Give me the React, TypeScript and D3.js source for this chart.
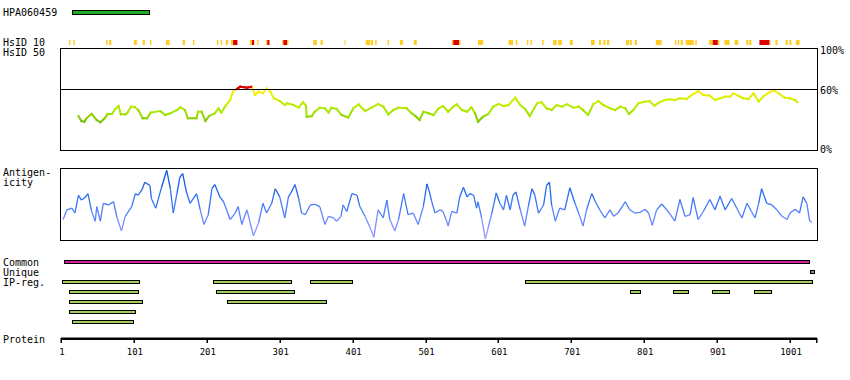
import React from "react";
import * as d3 from "d3";

const PROTEIN_LENGTH = 1038;
const TICK_VALUES = [1, 101, 201, 301, 401, 501, 601, 701, 801, 901, 1001];

const HPA_ANTIGEN = [16, 121];

// HsID 10 conservation marks: [start, end, level] level 1 = orange, 2 = red
const HSID10_MARKS: [number, number, number][] = [
  [12, 14, 1], [18, 20, 1], [63, 65, 1], [67, 70, 1], [101, 105, 1], [113, 116, 1],
  [123, 125, 1], [145, 150, 1], [168, 171, 1], [182, 184, 1], [215, 217, 1], [220, 222, 1],
  [227, 230, 1], [234, 237, 1], [237, 243, 2], [260, 263, 1], [263, 266, 2], [270, 272, 1],
  [282, 284, 1], [284, 287, 2], [304, 306, 1], [306, 311, 2], [311, 313, 1], [347, 352, 1],
  [357, 360, 1], [390, 391, 1], [419, 425, 1], [426, 429, 1], [432, 434, 1], [449, 451, 1],
  [466, 470, 1], [485, 489, 1], [537, 539, 1], [539, 547, 2], [547, 549, 1], [573, 580, 1],
  [615, 621, 1], [625, 627, 1], [640, 642, 1], [645, 647, 1], [661, 663, 1], [676, 681, 1],
  [683, 688, 1], [699, 703, 1], [728, 733, 1], [739, 742, 1], [745, 748, 1], [750, 753, 1],
  [776, 780, 1], [781, 784, 1], [788, 791, 1], [817, 823, 1], [823, 825, 1], [843, 845, 1],
  [847, 849, 1], [851, 854, 1], [858, 869, 1], [871, 873, 1], [890, 895, 1], [895, 902, 2],
  [902, 904, 1], [911, 918, 1], [925, 930, 1], [941, 944, 1], [945, 948, 1], [959, 973, 2],
  [973, 974, 1], [981, 984, 1], [995, 998, 1], [1000, 1003, 1], [1009, 1014, 1],
];

// Similarity (HsID 50) in percent, sampled along the sequence
const SIM_RESIDUES = [
  25, 29, 33, 36, 43, 50, 55, 61, 65, 71, 75, 80, 83, 90, 93, 97, 102, 107, 113, 119, 124, 137, 144, 151,
  160, 165, 171, 175, 187, 189, 194, 199, 204, 212, 217, 221, 226, 233, 237, 242, 247, 256, 263, 267,
  272, 278, 283, 288, 293, 301, 308, 311, 320, 327, 333, 337, 338, 345, 349, 356, 363, 368, 372, 379,
  386, 395, 402, 409, 418, 427, 436, 443, 450, 457, 464, 475, 482, 487, 493, 498, 505, 512, 519, 525,
  532, 539, 544, 551, 558, 564, 569, 573, 580, 587, 594, 601, 608, 615, 624, 631, 638, 644, 654, 660,
  667, 674, 681, 688, 695, 704, 711, 717, 724, 731, 738, 745, 754, 761, 768, 775, 780, 786, 793, 802,
  808, 815, 822, 829, 836, 843, 850, 859, 866, 875, 882, 891, 898, 905, 912, 919, 923, 930, 937, 944,
  951, 958, 964, 974, 980, 987, 994, 1001, 1008, 1011,
];
const SIM_VALUES = [
  33.3, 28.4, 27.7, 31.1, 35.3, 29.4, 27.2, 31.1, 35.3, 35.3, 39.9, 43.1, 35, 35, 37.5, 42.5, 42.2, 39.2,
  31.1, 31.1, 36.6, 38.2, 34.3, 36, 39.2, 41.9, 39.2, 31.1, 31.1, 37.5, 37.5, 28.4, 33.3, 36, 40.9, 36.6,
  42.5, 49, 57.2, 59.8, 62.1, 61.1, 62.1, 53.9, 57.2, 55.6, 60.5, 57.2, 50.7, 48, 44.1, 45.8, 44.1, 41.5,
  46.8, 43.4, 32.6, 33.3, 37.5, 41.5, 40.9, 36.6, 41.5, 40.2, 34.3, 31.7, 40.9, 44.8, 38.2, 41.5, 45.1,
  42.5, 35, 39.2, 41.5, 40.9, 36, 33.3, 29.4, 37.5, 36, 34.3, 40.9, 43.1, 37.5, 42.5, 44.8, 39.2, 37.5,
  41.9, 36, 27.7, 32.6, 35.3, 42.5, 45.1, 43.1, 44.1, 51.3, 44.1, 39.9, 33.3, 45.8, 46.8, 40.9, 39.2,
  44.1, 42.5, 44.8, 41.5, 42.5, 39.2, 34.3, 44.8, 48, 44.1, 40.9, 39.2, 42.5, 40.9, 35.3, 39.2, 45.8,
  47.4, 48, 43.4, 46.8, 49, 49.7, 49, 50.7, 50, 53.9, 57.8, 53.9, 53.2, 49, 50.7, 52.3, 52.3, 55.6, 53.2,
  50.7, 50, 55.6, 47.4, 52.3, 57.2, 58.1, 54.6, 51.3, 50.7, 49, 46.8,
];

// Antigenicity score (0-100), sampled along the sequence
const ANT_RESIDUES = [
  4, 9, 16, 20, 25, 29, 34, 38, 43, 48, 50, 55, 59, 66, 73, 78, 84, 89, 98, 103, 107, 112, 116, 123, 125,
  131, 139, 146, 151, 155, 160, 164, 168, 173, 178, 187, 192, 197, 203, 208, 212, 219, 224, 233, 240, 244,
  249, 256, 265, 272, 278, 283, 290, 295, 301, 308, 313, 317, 322, 327, 331, 336, 343, 349, 356, 363, 368,
  375, 379, 385, 388, 393, 400, 407, 411, 418, 425, 430, 436, 443, 448, 452, 459, 464, 471, 477, 484, 491,
  498, 503, 507, 509, 514, 521, 525, 530, 532, 537, 544, 548, 553, 558, 562, 567, 571, 573, 578, 583, 587,
  592, 598, 603, 608, 612, 617, 621, 625, 631, 637, 642, 647, 651, 656, 663, 667, 671, 674, 679, 685, 692,
  699, 706, 711, 717, 722, 729, 734, 740, 747, 754, 759, 765, 775, 781, 788, 795, 802, 807, 812, 818, 825,
  832, 837, 843, 850, 857, 864, 868, 875, 882, 891, 898, 905, 912, 921, 928, 935, 942, 948, 953, 958, 962,
  969, 976, 983, 990, 997, 1001, 1008, 1014, 1019, 1024, 1028, 1031,
];
const ANT_VALUES = [
  27.8, 41.7, 44, 37.1, 62.5, 55.6, 59.3, 64.9, 39.3, 25.4, 46.3, 25.4, 51, 48.6, 53.2, 30.1, 11.5, 32.4,
  46.3, 64.9, 62.5, 70.4, 81, 76.4, 57.9, 44, 74, 98.2, 71.8, 37.1, 64.9, 87.9, 93.5, 67.1, 51, 64.9, 41.7,
  20.8, 34.7, 71.8, 77.8, 60.1, 53.2, 27.8, 37.1, 46.3, 20.8, 41.7, 4.6, 23.2, 51, 37.1, 51, 71.8, 60.1,
  30.1, 60.1, 67.1, 77.8, 57.9, 37.1, 34.7, 48.6, 49.6, 46.3, 20.8, 32.4, 30.1, 25.4, 32.4, 48.6, 39.3,
  64.9, 62.5, 46.3, 32.4, 16.3, 2.4, 41.7, 30.1, 55.6, 27.8, 11.5, 27.8, 64.9, 34.7, 37.1, 20.8, 46.3,
  78.8, 64.9, 55.6, 37.1, 41.7, 39.3, 25.4, 18.5, 39.3, 37.1, 60.1, 74, 60.1, 64.9, 62.5, 44, 53.2, 30.1,
  0, 16.3, 37.1, 65.7, 51, 41.7, 62.5, 41.7, 62.5, 67.1, 41.7, 18.5, 46.3, 71.8, 62.5, 37.1, 48.6, 76.4,
  81, 48.6, 25.4, 44, 41.7, 73.2, 51, 37.1, 18.5, 41.7, 64.9, 53.2, 41.7, 30.1, 41.7, 32.4, 37.1, 53.2,
  41.7, 37.1, 37.9, 42.6, 37.1, 19.4, 41.7, 50, 41.7, 34.7, 25.4, 56.5, 32.4, 34.7, 59.3, 27.8, 39.3,
  56.5, 41.7, 61.1, 41.7, 57.9, 44, 30.1, 51, 39.3, 30.1, 51, 71.8, 51, 48.6, 41.7, 32.4, 27.8, 37.1,
  42.6, 37.1, 60.1, 51, 25.4, 24,
];

const COMMON_REGION = [5, 1027];
const UNIQUE_REGION = [1028, 1033];

// IP-regions: [start, end, row]
const IP_REGIONS: [number, number, number][] = [
  [2, 107, 0], [210, 317, 0], [343, 401, 0], [638, 1031, 0],
  [12, 107, 1], [213, 320, 1], [782, 796, 1], [840, 861, 1], [894, 917, 1], [951, 974, 1],
  [12, 112, 2], [229, 365, 2],
  [12, 103, 3],
  [16, 99, 4],
];

const FONT = "'DejaVu Sans Mono', monospace";

export default function App() {
  const x = d3.scaleLinear().domain([1, PROTEIN_LENGTH]).range([61, 817]);
  const ySim = d3.scaleLinear().domain([0, 100]).range([150, 48]);
  const yAnt = d3.scaleLinear().domain([0, 100]).range([239, 169]);

  const simScale = d3
    .scaleLinear<string>()
    .domain([27, 31, 37, 47, 55, 59])
    .range(["#66bb11", "#88cc00", "#a4e600", "#c8ee00", "#eeee00", "#ffee22"])
    .clamp(true);
  const simColor = (v: number) => (v > 60 ? "#dd0000" : (simScale(v) as string));
  const antColor = d3
    .scaleLinear<string>()
    .domain([0, 30, 60, 100])
    .range(["#b0a0ff", "#6688ff", "#2a6ef0", "#0048d8"])
    .clamp(true);

  const simSegs = SIM_RESIDUES.slice(1).map((r, i) => {
    const v0 = SIM_VALUES[i];
    const v1 = SIM_VALUES[i + 1];
    return {
      d: d3.line()([
        [x(SIM_RESIDUES[i]), ySim(v0)],
        [x(r), ySim(v1)],
      ]) as string,
      c: simColor((v0 + v1) / 2),
    };
  });
  const antSegs = ANT_RESIDUES.slice(1).map((r, i) => {
    const v0 = ANT_VALUES[i];
    const v1 = ANT_VALUES[i + 1];
    return {
      d: d3.line()([
        [x(ANT_RESIDUES[i]), yAnt(v0)],
        [x(r), yAnt(v1)],
      ]) as string,
      c: antColor((v0 + v1) / 2) as string,
    };
  });

  const label = (txt: string, yy: number) => (
    <text x={3} y={yy} fontFamily={FONT} fontSize={10} fill="#000">
      {txt}
    </text>
  );

  const bar = (s: number, e: number, yTop: number, fill: string, key: string) => (
    <rect
      key={key}
      x={Math.round(x(s)) + 0.5}
      y={yTop + 0.5}
      width={Math.max(2, Math.round(x(e) - x(s)))}
      height={3}
      fill={fill}
      stroke="#000"
      strokeWidth={1}
    />
  );

  return (
    <svg width={850} height={380} style={{ position: "absolute", left: 0, top: 0, background: "#fff" }}>
      <rect x={0} y={0} width={850} height={380} fill="#fff" />
      {label("HPA060459", 16)}
      <rect
        x={Math.round(x(HPA_ANTIGEN[0])) + 0.5}
        y={10.5}
        width={Math.round(x(HPA_ANTIGEN[1]) - x(HPA_ANTIGEN[0]))}
        height={4}
        fill="#22aa22"
        stroke="#000"
      />

      {label("HsID 10", 46)}
      {label("HsID 50", 56)}
      {HSID10_MARKS.map(([s, e, lvl], i) => (
        <rect
          key={i}
          x={x(s)}
          y={40}
          width={Math.max(1, x(e) - x(s))}
          height={5}
          fill={lvl === 2 ? "#dd0000" : "#ffcc22"}
        />
      ))}

      {/* similarity box */}
      <rect x={60.5} y={48.5} width={757} height={102} fill="none" stroke="#000" />
      {simSegs.map((s, i) => (
        <path key={i} d={s.d} stroke={s.c} strokeWidth={2} fill="none" strokeLinecap="square" />
      ))}
      <line x1={60} x2={817} y1={Math.round(ySim(60)) + 0.5} y2={Math.round(ySim(60)) + 0.5} stroke="#000" />
      {simSegs.map((s, i) =>
        s.c === "#dd0000" ? <path key={"r" + i} d={s.d} stroke={s.c} strokeWidth={2} fill="none" /> : null
      )}
      <text x={820} y={54} fontFamily={FONT} fontSize={10}>100%</text>
      <text x={820} y={94} fontFamily={FONT} fontSize={10}>60%</text>
      <text x={820} y={153} fontFamily={FONT} fontSize={10}>0%</text>

      {/* antigenicity */}
      {label("Antigen-", 176)}
      {label("icity", 186)}
      <rect x={60.5} y={168.5} width={757} height={72} fill="none" stroke="#000" />
      {antSegs.map((s, i) => (
        <path key={i} d={s.d} stroke={s.c} strokeWidth={1.3} fill="none" />
      ))}

      {/* regions */}
      {label("Common", 266)}
      {label("Unique", 276)}
      {label("IP-reg.", 286)}
      {bar(COMMON_REGION[0], COMMON_REGION[1], 260, "#cc2299", "common")}
      {bar(UNIQUE_REGION[0], UNIQUE_REGION[1], 270, "#888888", "unique")}
      {IP_REGIONS.map(([s, e, row], i) => bar(s, e, 280 + row * 10, "#a2cc5c", "ip" + i))}

      {/* protein axis */}
      {label("Protein", 343)}
      <rect x={61} y={337.5} width={756} height={2.5} fill="#000" />
      {TICK_VALUES.map((t) => (
        <g key={t}>
          <rect x={Math.round(x(t)) - 0.5} y={338} width={1.5} height={5} fill="#000" />
          <text x={x(t) + 1} y={355} fontFamily={FONT} fontSize={9} textAnchor="middle">
            {t}
          </text>
        </g>
      ))}
      <rect x={816} y={338} width={1.5} height={5} fill="#000" />
    </svg>
  );
}
